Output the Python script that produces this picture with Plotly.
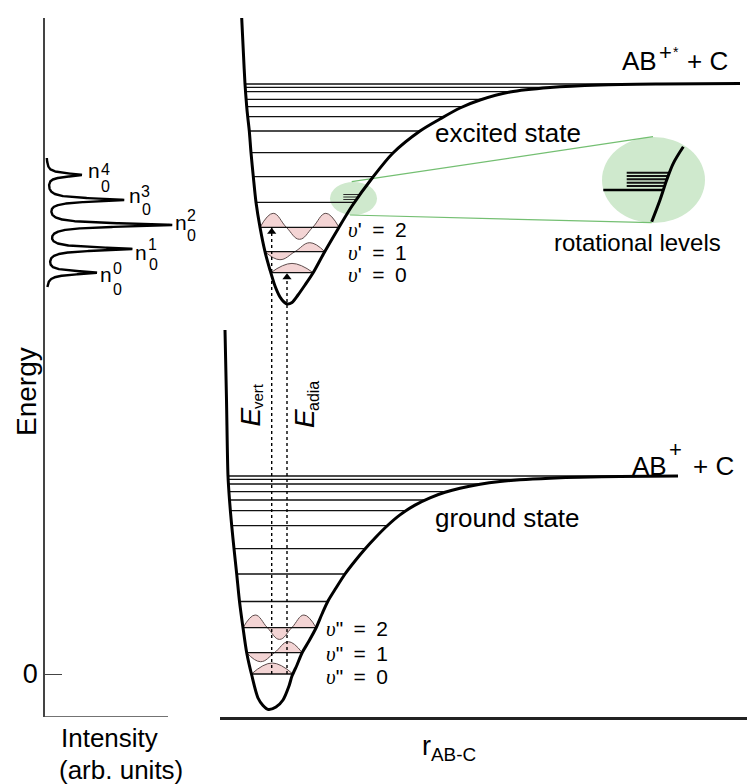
import numpy as np
import plotly.graph_objects as go

W, H = 747, 784
SANS = "Liberation Sans, Arial, sans-serif"
SERIF = "Liberation Serif, Times New Roman, serif"

# ---------------- data (arbitrary units) ----------------
# excited-state potential curve  (r, E)
exc_r = [21.7, 23.5, 25, 26.7, 27.7, 29.3, 31, 33.3, 36, 40, 45, 50, 55, 60, 64, 67.5,
         72, 78, 85, 93, 104, 118, 132, 153, 173, 200, 220, 240, 260, 290, 330, 380, 440, 520]
exc_E = [656, 619, 590, 567.3, 557.3, 543, 521.3, 497.3, 471.7, 446.7, 422.3, 404, 388, 377, 372, 370,
         371.5, 379, 389, 401, 421, 445, 468, 497, 521, 543, 555, 566, 574, 582, 586.5, 589, 590, 590.5]
exc_levels = [401.3, 422.3, 446.7, 471.7, 497.3, 521.3, 543, 557.3, 567.3, 574.7, 582.3, 586.7, 590]

# ground-state potential curve  (r, E)
gnd_r = [5, 6.5, 8, 9.5, 11.7, 14, 16.7, 19.5, 23, 26.7, 31.7, 38, 43, 48.3, 56, 63, 69, 72, 77, 82,
         89, 96, 102, 108, 116, 125, 135, 145, 156, 167, 180, 195, 210, 225, 240, 260, 280, 300,
         330, 360, 400, 458]
gnd_E = [344, 274, 198, 174, 148.3, 125.3, 100, 72.5, 46.3, 21.3, -1, -24, -31.5, -35.5, -33, -26, -12, -2, 9, 21,
         33, 46, 60, 73, 86, 100, 113, 125, 137, 148, 159.1, 168.9, 176.2, 181.7, 185.8, 189.7, 192.4, 194.2,
         195.8, 196.8, 197.5, 198]
gnd_levels = [0, 21.3, 46.3, 72.5, 100, 125.3, 148.3, 163.3, 174, 182.3, 190, 194.7, 198]

# vibrational wavefunction lobe amplitudes for v = 0, 1, 2
exc_wf_amp = [[9.3], [-8, 9], [14, -12, 14]]
gnd_wf_amp = [[11], [-9, 11], [12.7, -11.7, 12.7]]

# transitions (r position, lower E, upper E)
trans_names = ["vert", "adia"]
trans_r = [51.7, 67]
trans_E0 = [0, 0]
trans_E1 = [446.7, 401.3]

# photoelectron-like spectrum: peak energies and intensities (n0 ... n4)
spec_peak_E = [401.3, 425, 449, 474, 499]
spec_peak_I = [50, 85, 125, 77, 35]
spec_baseline = 1.0
spec_width = 2.0
spec_labels_sup = ["0", "1", "2", "3", "4"]

# rotational-level inset
small_ell = dict(r=133.5, E=475.5, rx=23.5, ry=16.5)
big_ell = dict(r=433.5, E=494, rx=51.5, ry=43)
small_rot_E = [479.5, 477, 474.5]
small_rot_r0 = 123.3
big_curve_r = [463.3, 453.3, 446.7, 440, 431.7]
big_curve_E = [527.3, 510.7, 494, 474, 452.3]
big_level_E = 484
big_level_r0 = 383.3
big_rot_E = [501.3, 498, 494.7, 491.3, 488]
big_rot_r0 = 406.7
link_r = [[131.7, 433], [130, 431.7]]
link_E = [[492.3, 537.3], [459, 451.3]]

# ---------------- helpers ----------------
def branches(r, E):
    r = np.asarray(r, float); E = np.asarray(E, float)
    i = int(np.argmin(E))
    return r[:i + 1][::-1], E[:i + 1][::-1], r[i:], E[i:]

def ends(r, E, lev):
    lr, lE, rr, rE = branches(r, E)
    return float(np.interp(lev, lE, lr)), float(np.interp(lev, rE, rr))

fig = go.Figure()

# wavefunctions
def add_wf(r, E, levels, amps):
    for v, a in enumerate(amps):
        lev = levels[v]
        xl, xr = ends(r, E, lev)
        n = len(a)
        xs = [xl + k * (xr - xl) / (2 * n) for k in range(2 * n + 1)]
        ys = []
        for k in range(2 * n + 1):
            ys.append(lev + (a[k // 2] if k % 2 == 1 else 0))
        fig.add_trace(go.Scatter(x=xs, y=ys, xaxis="x2", yaxis="y", mode="lines",
                                 line=dict(color="#5e4c4c", width=1, shape="spline", smoothing=1.2),
                                 fill="toself", fillcolor="rgba(236,186,186,0.62)", hoverinfo="skip"))

add_wf(exc_r, exc_E, exc_levels, exc_wf_amp)
add_wf(gnd_r, gnd_E, gnd_levels, gnd_wf_amp)

# vibrational level lines
def add_levels(r, E, levels):
    xs, ys = [], []
    for lev in levels:
        xl, xr = ends(r, E, lev)
        xs += [xl, xr, None]; ys += [lev, lev, None]
    fig.add_trace(go.Scatter(x=xs, y=ys, xaxis="x2", yaxis="y", mode="lines",
                             line=dict(color="#111", width=1.3), hoverinfo="skip"))

add_levels(exc_r, exc_E, exc_levels)
add_levels(gnd_r, gnd_E, gnd_levels)

# small rotational lines
xs, ys = [], []
for e in small_rot_E:
    _, xr = ends(exc_r, exc_E, e)
    xs += [small_rot_r0, xr, None]; ys += [e, e, None]
fig.add_trace(go.Scatter(x=xs, y=ys, xaxis="x2", yaxis="y", mode="lines",
                         line=dict(color="#2a2a2a", width=1), hoverinfo="skip"))

# potential curves
for r, E in [(exc_r, exc_E), (gnd_r, gnd_E)]:
    fig.add_trace(go.Scatter(x=r, y=E, xaxis="x2", yaxis="y", mode="lines",
                             line=dict(color="black", width=3, shape="spline", smoothing=0.8),
                             hoverinfo="skip"))

# big inset content
bc_r = np.array(big_curve_r); bc_E = np.array(big_curve_E)
def inset_r(e):
    return float(np.interp(e, bc_E[::-1], bc_r[::-1]))
xs, ys = [], []
for e in big_rot_E:
    xs += [big_rot_r0, inset_r(e), None]; ys += [e, e, None]
fig.add_trace(go.Scatter(x=xs, y=ys, xaxis="x2", yaxis="y", mode="lines",
                         line=dict(color="#111", width=2), hoverinfo="skip"))
fig.add_trace(go.Scatter(x=[big_level_r0, inset_r(big_level_E)], y=[big_level_E, big_level_E],
                         xaxis="x2", yaxis="y", mode="lines",
                         line=dict(color="black", width=2.5), hoverinfo="skip"))
fig.add_trace(go.Scatter(x=big_curve_r, y=big_curve_E, xaxis="x2", yaxis="y", mode="lines",
                         line=dict(color="black", width=3, shape="spline"), hoverinfo="skip"))

# transitions (dotted arrows)
for r0, e0, e1 in zip(trans_r, trans_E0, trans_E1):
    fig.add_trace(go.Scatter(x=[r0, r0], y=[e0, e1], xaxis="x2", yaxis="y", mode="lines",
                             line=dict(color="black", width=1.4, dash="dot"), hoverinfo="skip"))
    fig.add_trace(go.Scatter(x=[r0], y=[e1 - 4.5], xaxis="x2", yaxis="y", mode="markers",
                             marker=dict(symbol="triangle-up", size=8, color="black"),
                             hoverinfo="skip", cliponaxis=False))

# spectrum (Lorentzian sum of the peaks)
Eg = np.linspace(387, 516, 2600)
Ig = np.full_like(Eg, spec_baseline)
for e0, a in zip(spec_peak_E, spec_peak_I):
    Ig += a * spec_width ** 2 / ((Eg - e0) ** 2 + spec_width ** 2)
fig.add_trace(go.Scatter(x=Ig, y=Eg, xaxis="x", yaxis="y", mode="lines",
                         line=dict(color="black", width=2.4), hoverinfo="skip"))

# shapes: inset ellipses & links
green_fill = "#cfe9cd"
green_line = "#74bf72"
for el in (small_ell, big_ell):
    fig.add_shape(type="circle", xref="x2", yref="y", layer="below",
                  x0=el["r"] - el["rx"], x1=el["r"] + el["rx"],
                  y0=el["E"] - el["ry"], y1=el["E"] + el["ry"],
                  fillcolor=green_fill, line=dict(width=0))
for lr, le in zip(link_r, link_E):
    fig.add_shape(type="line", xref="x2", yref="y", layer="below",
                  x0=lr[0], x1=lr[1], y0=le[0], y1=le[1], line=dict(color=green_line, width=1.2))
# spectrum panel bottom line
fig.add_shape(type="line", xref="x", yref="y", x0=0, x1=123, y0=-43, y1=-43,
              line=dict(color="#444", width=1.6))

# ---------------- text ----------------
def T(text, px, py, size=26, xa="center", angle=0, family=SANS):
    fig.add_annotation(text=text, x=px / W, y=1 - py / H, xref="paper", yref="paper",
                       showarrow=False, xanchor=xa, yanchor="middle", textangle=angle,
                       font=dict(size=size, family=family, color="black"))

T("Energy", 26, 392, 28, angle=-90)
T("Intensity", 58.5, 737.5, 26, xa="left")
T("(arb. units)", 56.5, 770, 26, xa="left")
T("r<sub>AB-C</sub>", 449, 748, 27)

T("excited state", 433, 132.6, 26, xa="left")
T("ground state", 433, 517.5, 26, xa="left")
T("rotational levels", 551.5, 242.6, 24, xa="left")

T("AB", 620, 61, 26, xa="left")
T("+", 665, 52, 22)
T("*", 675.5, 52, 14)
T("+ C", 685, 61, 26, xa="left")

T("AB", 630, 466, 26, xa="left")
T("+", 675, 449, 22)
T("+ C", 690.5, 466, 26, xa="left")

ups = "<span style=\"font-family:'Liberation Serif'\"><i>υ</i></span>"
sp = "\u2002"
for i, py in enumerate([274.5, 253.5, 230]):
    T(ups + "'" + sp + "=" + sp + "%d" % i, 345.5, py, 21, xa="left")
for i, py in enumerate([677, 653.5, 628.5]):
    T(ups + '"' + sp + "=" + sp + "%d" % i, 324, py, 21, xa="left")

# E_vert / E_adia
T("<i>E</i>", 250, 417.5, 28, angle=-90)
T("vert", 258, 396, 15, angle=-90)
T("<i>E</i>", 304, 419, 28, angle=-90)
T("adia", 314, 396, 16, angle=-90)

# spectrum labels n_0^k
n_pos = [(106, 274.6, 117, 269, 117, 289),
         (141, 252.6, 152.5, 244, 153, 264),
         (181, 222.6, 192, 216, 192, 236),
         (135, 195.6, 145, 191, 146, 209),
         (94, 170.6, 106, 169, 106, 186)]
for k, (nx, ny, sx, sy, bx, by) in enumerate(n_pos):
    T("n", nx, ny, 21)
    T(spec_labels_sup[k], sx, sy, 16)
    T("0", bx, by, 16)

# ---------------- axes ----------------
fig.update_layout(
    width=W, height=H, margin=dict(l=0, r=0, t=0, b=0),
    paper_bgcolor="white", plot_bgcolor="white", showlegend=False,
    xaxis=dict(domain=[45 / W, 215 / W], range=[0, 170], visible=False, anchor="y"),
    xaxis2=dict(domain=[220 / W, 1], range=[0, 527], showline=True, linecolor="#222", linewidth=2.5,
                showgrid=False, zeroline=False, showticklabels=False, ticks="", anchor="y"),
    yaxis=dict(domain=[67 / H, 766 / H], range=[-43, 656], showline=True, linecolor="#444", linewidth=1.6,
               ticks="inside", ticklen=17, tickwidth=1.2, tickcolor="#444",
               tickvals=[0], ticktext=["0"], showgrid=False, zeroline=False,
               tickfont=dict(size=27, family=SANS, color="black"), anchor="x"),
)

fig.write_html("out.html", config={"displayModeBar": False},
               post_script="document.body.style.margin='0px';document.body.style.overflow='hidden';")
